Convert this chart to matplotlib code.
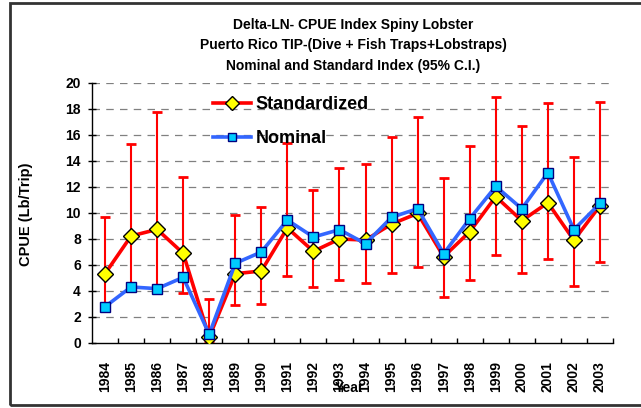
import matplotlib
matplotlib.use("Agg")
import matplotlib.pyplot as plt
import numpy as np
from matplotlib.patches import Rectangle

years = [1984, 1985, 1986, 1987, 1988, 1989, 1990, 1991, 1992, 1993,
         1994, 1995, 1996, 1997, 1998, 1999, 2000, 2001, 2002, 2003]
standardized = [5.33, 8.23, 8.74, 6.90, 0.45, 5.33, 5.54, 8.85, 7.05, 8.00,
                7.92, 9.15, 9.97, 6.64, 8.56, 11.26, 9.41, 10.79, 7.90, 10.56]
nominal = [2.79, 4.31, 4.18, 5.05, 0.67, 6.13, 7.00, 9.46, 8.15, 8.72,
           7.64, 9.67, 10.33, 6.87, 9.56, 12.05, 10.33, 13.10, 8.72, 10.74]
upper_ci = [9.72, 15.28, 17.74, 12.79, 3.36, 9.87, 10.46, 15.40, 11.74, 13.44,
            13.77, 15.82, 17.40, 12.72, 15.18, 18.95, 16.69, 18.44, 14.28, 18.51]
lower_ci = [2.93, 4.50, 4.30, 3.87, 0.05, 2.90, 3.03, 5.15, 4.31, 4.85,
            4.64, 5.36, 5.82, 3.51, 4.85, 6.77, 5.36, 6.46, 4.41, 6.26]
y_ticks = [0, 2, 4, 6, 8, 10, 12, 14, 16, 18, 20]

plt.rcParams['font.family'] = ['Liberation Sans', 'DejaVu Sans']
plt.rcParams['font.weight'] = 'bold'

W, H = 641, 408
fig = plt.figure(figsize=(W / 100, H / 100), dpi=100)
L, R, T, B = 92, 613, 83, 343
ax = fig.add_axes([L / W, 1 - B / H, (R - L) / W, (B - T) / H])

x = np.arange(len(years))
std = np.array(standardized)
lo = std - np.array(lower_ci)
hi = np.array(upper_ci) - std

for yv in y_ticks[1:]:
    ax.axhline(yv, color='#808080', lw=0.9, ls=(0, (6, 5)), zorder=0)

ax.errorbar(x, std, yerr=[lo, hi], fmt='none', ecolor='#FF0000',
            elinewidth=1.5, capsize=3.8, capthick=2, zorder=2)
ax.plot(x, standardized, color='#FF0000', lw=2.6, marker='D', ms=8.5,
        mfc='#FFFF00', mec='black', mew=1.0, zorder=3, label='Standardized')
ax.plot(x, nominal, color='#3366FF', lw=2.6, marker='s', ms=7,
        mfc='#00CCFF', mec='#000080', mew=1.0, zorder=4, label='Nominal')

ax.set_xlim(-0.5, len(years) - 0.5)
ax.set_ylim(0, 20)
ax.set_yticks(y_ticks)
ax.set_yticklabels([str(v) for v in y_ticks], fontsize=10, fontweight='bold')
ax.set_xticks(x)
ax.set_xticklabels([str(v) for v in years], rotation=90, fontsize=10,
                   fontweight='bold')
ax.set_xticks(np.arange(len(years)) + 0.5, minor=True)
ax.tick_params(axis='x', which='major', length=0, pad=13)
ax.tick_params(axis='x', which='minor', length=3.5, direction='in', width=1)
ax.tick_params(axis='y', which='major', length=6, direction='inout', width=1, pad=5)

for s in ['top', 'right']:
    ax.spines[s].set_visible(False)
for s in ['left', 'bottom']:
    ax.spines[s].set_linewidth(1.0)

ax.set_ylabel('CPUE (Lb/Trip)', fontsize=10.5, fontweight='bold')
ax.yaxis.set_label_coords(-0.113, 0.496)
ax.set_xlabel('Year', fontsize=10, fontweight='bold')
ax.xaxis.set_label_coords(0.495, -0.173)
ax.xaxis.label.set_va('center')

leg = ax.legend(loc='upper left', bbox_to_anchor=((213 - L) / (R - L), (B - 96) / (B - T)),
                frameon=False, borderpad=0, borderaxespad=0,
                handlelength=2.1, handletextpad=0.25, labelspacing=0.95,
                markerscale=0.8, prop={'weight': 'bold', 'size': 13})

titles = ["Delta-LN- CPUE Index Spiny Lobster",
          "Puerto Rico TIP-(Dive + Fish Traps+Lobstraps)",
          "Nominal and Standard Index (95% C.I.)"]
for i, t in enumerate(titles):
    fig.text(353 / W, 1 - (25 + 20.5 * i) / H, t, ha='center', va='center',
             fontsize=10, fontweight='bold')

fig.patches.append(Rectangle((9.5 / W, 3 / H), 1.2, (405 - 3) / H,
                             transform=fig.transFigure, fill=False,
                             edgecolor='#333333', lw=2.0))

fig.savefig('out.png', dpi=100)
